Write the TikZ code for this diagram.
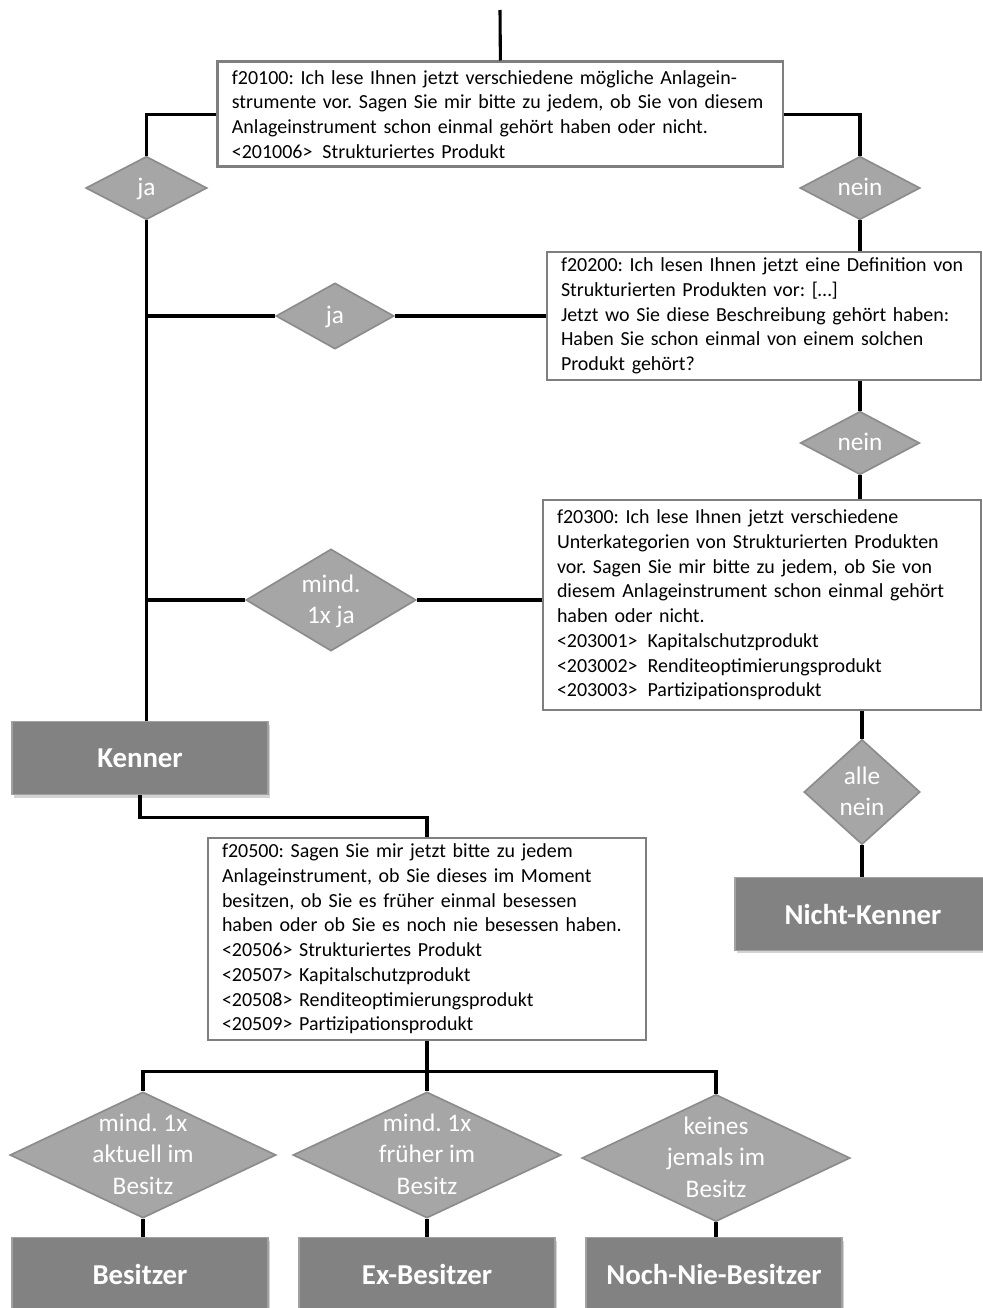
\documentclass[tikz,border=0pt]{standalone}
\usepackage{fontspec}
\setmainfont{Carlito}
\usetikzlibrary{shapes.geometric,shadows}
\definecolor{boxgray}{RGB}{127,127,127}
\definecolor{decfill}{RGB}{166,166,166}
\definecolor{decdraw}{RGB}{140,140,140}
\definecolor{resfill}{RGB}{130,130,130}
\frenchspacing
% centred text in a diamond, without growing the shape
\newcommand{\dtext}[1]{\smash{\raisebox{-0.3em}{\begin{tabular}{@{}c@{}}#1\end{tabular}}}}

\begin{document}
\begin{tikzpicture}[
        question/.style={rectangle, draw=boxgray, line width=2pt, fill=white, align=left, inner xsep=0.35cm, inner ysep=0pt, font=\fontsize{14.2}{17.6}\selectfont},
        decision/.style={diamond, draw=decdraw, line width=1.2pt, fill=decfill, inner sep=0pt, text=white, font=\fontsize{18}{22.5}\selectfont},
        result/.style={rectangle, draw=resfill!75!white, line width=0.8pt, fill=resfill, minimum width=6.4cm, minimum height=1.825cm, text=white, font=\bfseries\fontsize{20.5}{24}\selectfont, drop shadow={shadow xshift=0.05cm, shadow yshift=-0.07cm, opacity=0.35}},
        wire/.style={line width=2.2pt},
    ]
        \useasboundingbox (0,0) rectangle (24.55,-32.7);

        % Entry
        \coordinate (top) at (12.5,-0.25);

        % Questions
        \node[question, text width=13.425cm, minimum height=2.625cm] (q1) at (12.51,-2.86) {f20100: Ich lese Ihnen jetzt verschiedene mögliche Anlagein-\\strumente vor. Sagen Sie mir bitte zu jedem, ob Sie von diesem\\Anlageinstrument schon einmal gehört haben oder nicht.\\<201006>\enspace Strukturiertes Produkt};
        \node[question, text width=10.15cm, minimum height=3.2cm] (q2) at (19.1,-7.9) {f20200: Ich lesen Ihnen jetzt eine Definition von\\Strukturierten Produkten vor: [\ldots]\\Jetzt wo Sie diese Beschreibung gehört haben:\\Haben Sie schon einmal von einem solchen\\Produkt gehört?};
        \node[question, text width=10.25cm, minimum height=5.25cm] (q3) at (19.05,-15.125) {f20300: Ich lese Ihnen jetzt verschiedene\\Unterkategorien von Strukturierten Produkten\\vor. Sagen Sie mir bitte zu jedem, ob Sie von\\diesem Anlageinstrument schon einmal gehört\\haben oder nicht.\\<203001>\enspace Kapitalschutzprodukt\\<203002>\enspace Renditeoptimierungsprodukt\\<203003>\enspace Partizipationsprodukt};
        \node[question, text width=10.25cm, minimum height=5.05cm] (q4) at (10.675,-23.475) {f20500: Sagen Sie mir jetzt bitte zu jedem\\Anlageinstrument, ob Sie dieses im Moment\\besitzen, ob Sie es früher einmal besessen\\haben oder ob Sie es noch nie besessen haben.\\<20506> Strukturiertes Produkt\\<20507> Kapitalschutzprodukt\\<20508> Renditeoptimierungsprodukt\\<20509> Partizipationsprodukt};

        % Decisions
        \node[decision, minimum width=3.03cm, minimum height=1.58cm] (ja1) at (3.66,-4.7) {\dtext{ja}};
        \node[decision, minimum width=3cm, minimum height=1.58cm] (nein1) at (21.5,-4.7) {\dtext{nein}};
        \node[decision, minimum width=2.95cm, minimum height=1.65cm] (ja2) at (8.375,-7.9) {\dtext{ja}};
        \node[decision, minimum width=2.98cm, minimum height=1.58cm] (nein2) at (21.5,-11.075) {\dtext{nein}};
        \node[decision, minimum width=4.25cm, minimum height=2.55cm] (ja3) at (8.275,-15.0) {\dtext{mind.\\1x ja}};
        \node[decision, minimum width=2.9cm, minimum height=2.625cm] (allenein) at (21.55,-19.8) {\dtext{alle\\nein}};
        \node[decision, minimum width=6.65cm, minimum height=3.15cm] (aktuell) at (3.575,-28.875) {\dtext{mind. 1x\\aktuell im\\Besitz}};
        \node[decision, minimum width=6.7cm, minimum height=3.15cm] (frueher) at (10.675,-28.875) {\dtext{mind. 1x\\früher im\\Besitz}};
        \node[decision, minimum width=6.7cm, minimum height=3.175cm] (keines) at (17.9,-28.95) {\dtext{keines\\jemals im\\Besitz}};

        % Results
        \node[result] (kenner) at (3.5,-18.96) {Kenner};
        \node[result] (nichtkenner) at (21.575,-22.85) {Nicht-Kenner};
        \node[result] (besitzer) at (3.5,-31.86) {Besitzer};
        \node[result] (exbesitzer) at (10.675,-31.86) {Ex-Besitzer};
        \node[result] (nochnie) at (17.85,-31.86) {Noch-Nie-Besitzer};

        % Lines
        \draw[wire] (top) -- (q1.north);
        \draw[wire] (q1.west) -| (ja1.north);
        \draw[wire] (q1.east) -| (nein1.north);
        \draw[wire] (nein1.south) -- (nein1.south |- q2.north);
        \draw[wire] (q2.west) -- (ja2.east);
        \draw[wire] (ja2.west) -- (ja2.west -| ja1.south);
        \draw[wire] (nein2.north) -- (nein2.north |- q2.south);
        \draw[wire] (nein2.south) -- (nein2.south |- q3.north);
        \draw[wire] (ja3.east) -- (ja3.east -| q3.west);
        \draw[wire] (ja3.west) -- (ja3.west -| ja1.south);
        \draw[wire] (ja1.south) -- (ja1.south |- kenner.north);
        \draw[wire] (allenein.north) -- (allenein.north |- q3.south);
        \draw[wire] (allenein.south) -- (allenein.south |- nichtkenner.north);
        \draw[wire] (kenner.south) -- ++(0,-0.55) -| (q4.north);
        \draw[wire] (q4.south) -- ++(0,-0.75) coordinate (bus);
        \draw[wire] (aktuell.north) |- (bus) -| (keines.north);
        \draw[wire] (bus) -- (frueher.north);
        \draw[wire] (aktuell.south) -- (aktuell.south |- besitzer.north);
        \draw[wire] (frueher.south) -- (frueher.south |- exbesitzer.north);
        \draw[wire] (keines.south) -- (keines.south |- nochnie.north);

    \end{tikzpicture}
\end{document}
